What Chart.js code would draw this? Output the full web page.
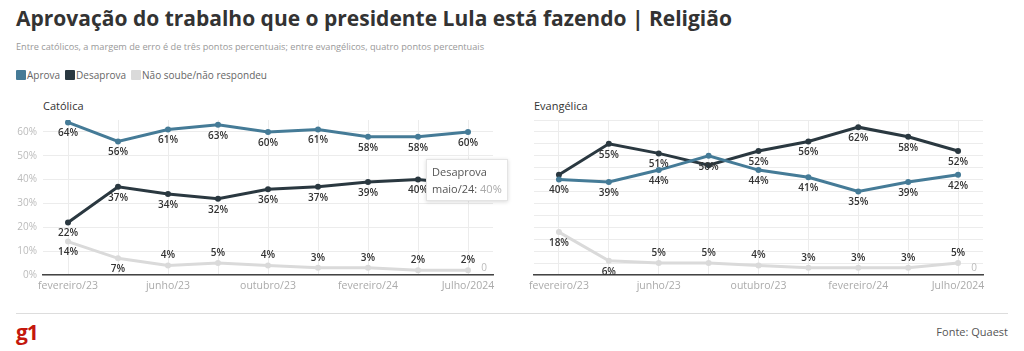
<!DOCTYPE html>
<html><head><meta charset="utf-8">
<script src="https://cdn.jsdelivr.net/npm/chart.js@4/dist/chart.umd.min.js"></script>
<style>
html,body{margin:0;padding:0;background:#fff;width:1024px;height:351px;overflow:hidden;font-family:"Open Sans",sans-serif;}
#title{position:absolute;left:16px;top:4px;font-size:21px;font-weight:700;color:#333;white-space:nowrap;}
#sub{position:absolute;left:16px;top:40px;font-size:9.2px;color:#999;white-space:nowrap;}
#legend{position:absolute;left:16px;top:68px;font-size:10px;color:#666;white-space:nowrap;display:flex;align-items:center;}
#legend span.sw{display:inline-block;width:10px;height:10px;margin-right:1px;border-radius:1px;}
#legend span.it{display:inline-flex;align-items:center;margin-right:5px;}
.ptitle{position:absolute;top:98px;font-size:11px;color:#333;}
canvas{position:absolute;}
#foot{position:absolute;left:16px;top:313px;width:992px;border-top:1px solid #ddd;}
#g1{position:absolute;left:16px;top:318px;font-size:21px;font-weight:700;color:#c4170c;letter-spacing:-1px;}
#src{position:absolute;right:16px;top:324px;font-size:11px;color:#555;}
#tt{position:absolute;display:none;background:#fff;border:1px solid #e4e4e4;box-shadow:0 1px 4px rgba(0,0,0,0.15);padding:3px 5px;font-size:11px;color:#555;line-height:17px;white-space:nowrap;}
</style></head>
<body>
<div id="title">Aprovação do trabalho que o presidente Lula está fazendo | Religião</div>
<div id="sub">Entre católicos, a margem de erro é de três pontos percentuais; entre evangélicos, quatro pontos percentuais</div>
<div id="legend"></div>
<div class="ptitle" style="left:43px">Católica</div>
<div class="ptitle" style="left:534px">Evangélica</div>
<canvas id="c1" width="500" height="200" style="left:0;top:100px;width:500px;height:200px"></canvas>
<canvas id="c2" width="524" height="200" style="left:500px;top:100px;width:524px;height:200px"></canvas>
<div id="tt"></div>
<div id="foot"></div>
<div id="g1">g1</div>
<div id="src">Fonte: Quaest</div>
<script>
const categories = ["fevereiro/23","abril/23","junho/23","agosto/23","outubro/23","dezembro/23","fevereiro/24","maio/24","Julho/2024"];
const seriesNames = ["Aprova","Desaprova","Não soube/não respondeu"];
const seriesColors = ["#457b97","#2a3840","#dadada"];
const catolicaAprova = [64,56,61,63,60,61,58,58,60];
const catolicaDesaprova = [22,37,34,32,36,37,39,40,38];
const catolicaNaoSoube = [14,7,4,5,4,3,3,2,2];
const evangelicaAprova = [40,39,44,50,44,41,35,39,42];
const evangelicaDesaprova = [42,55,51,46,52,56,62,58,52];
const evangelicaNaoSoube = [18,6,5,5,4,3,3,3,5];
const yTicks = [0,10,20,30,40,50,60];

// legend
const lg = document.getElementById('legend');
seriesNames.forEach((n,i)=>{
  const s=document.createElement('span');s.className='it';
  s.innerHTML='<span class="sw" style="background:'+seriesColors[i]+'"></span>'+n;
  lg.appendChild(s);
});

const labelPlugin = {
  id:'vlabels',
  afterDatasetsDraw(chart){
    const ctx=chart.ctx;
    ctx.save();
    ctx.font='600 10px "Open Sans"';
    ctx.fillStyle='#333';
    ctx.textAlign='center';
    ctx.textBaseline='middle';
    const placed=[];
    chart.data.datasets.forEach((ds,di)=>{
      const meta=chart.getDatasetMeta(di);
      meta.data.forEach((pt,i)=>{
        const v=ds.data[i];
        const above = (di===2 && v<=5);
        const y = above ? pt.y-10 : pt.y+11;
        const clash = placed.some(p=>p.i===i && Math.abs(p.y-y)<12);
        if(clash) return;
        placed.push({i,y});
        ctx.fillText(v+'%', pt.x, y);
      });
    });
    // trailing "0" marker
    const m=chart.getDatasetMeta(2);
    const last=m.data[m.data.length-1];
    ctx.font='10px "Open Sans"';
    ctx.fillStyle='#bbb';
    ctx.fillText('0', last.x+16, chart.scales.y.getPixelForValue(0)-7);
    ctx.restore();
  }
};

function externalTT(context){
  const el=document.getElementById('tt');
  const t=context.tooltip;
  if(!t || t.opacity===0 || !t.dataPoints || !t.dataPoints.length){el.style.display='none';return;}
  const dp=t.dataPoints[0];
  el.innerHTML=dp.dataset.label+'<br>'+dp.label+': <span style="color:#aaa">'+dp.raw+'%</span>';
  const cv=context.chart.canvas;
  el.style.display='block';
  const x=cv.offsetLeft+dp.element.x+8;
  el.style.left=x+'px';
  el.style.top=(cv.offsetTop+dp.element.y-el.offsetHeight/2)+'px';
}

function makeChart(id, data, showY, padRight, yWidth){
  const datasets = data.map((d,i)=>({
    label: seriesNames[i],
    data: d,
    borderColor: seriesColors[i],
    backgroundColor: seriesColors[i],
    borderWidth: 3,
    pointRadius: 3,
    pointHoverRadius: 3,
    pointBackgroundColor: seriesColors[i],
    pointBorderWidth: 0,
    tension: 0
  }));
  return new Chart(document.getElementById(id), {
    type:'line',
    data:{labels:categories, datasets},
    plugins:[labelPlugin],
    options:{
      responsive:false, animation:false,
      layout:{padding:{top:20,right:padRight,left:0,bottom:0}},
      plugins:{legend:{display:false}, tooltip:{enabled:false, external: externalTT}},
      events:[],
      scales:{
        x:{
          offset:true,
          grid:{offset:false,color:'#ececec',drawTicks:false},
          border:{display:true,color:'#444',width:1.5},
          ticks:{autoSkip:false,maxRotation:0,color:'#aaa',font:{size:10.5,family:'"Open Sans"'},padding:5,
            callback:(v,i)=> i%2===0 ? categories[i] : ''},
          afterFit:s=>{s.height=25;}
        },
        y:{
          min:0,max:65,
          grid:{color:'#ececec',drawTicks:false},
          border:{display:false},
          ticks:{display:showY,stepSize:5,color:'#bbb',font:{size:10,family:'"Open Sans"'},padding:6,
            callback:v=> yTicks.includes(v) ? v+'%' : ''},
          afterFit:s=>{s.width=yWidth;}
        }
      }
    }
  });
}

const c1 = makeChart('c1',[catolicaAprova,catolicaDesaprova,catolicaNaoSoube],true,7,43);
const c2 = makeChart('c2',[evangelicaAprova,evangelicaDesaprova,evangelicaNaoSoube],false,41,34);

const activeIdx = categories.indexOf('maio/24');
const pt = c1.getDatasetMeta(1).data[activeIdx];
c1.tooltip.setActiveElements([{datasetIndex:1,index:activeIdx}],{x:pt.x,y:pt.y});
c1.update();
</script>
</body></html>
